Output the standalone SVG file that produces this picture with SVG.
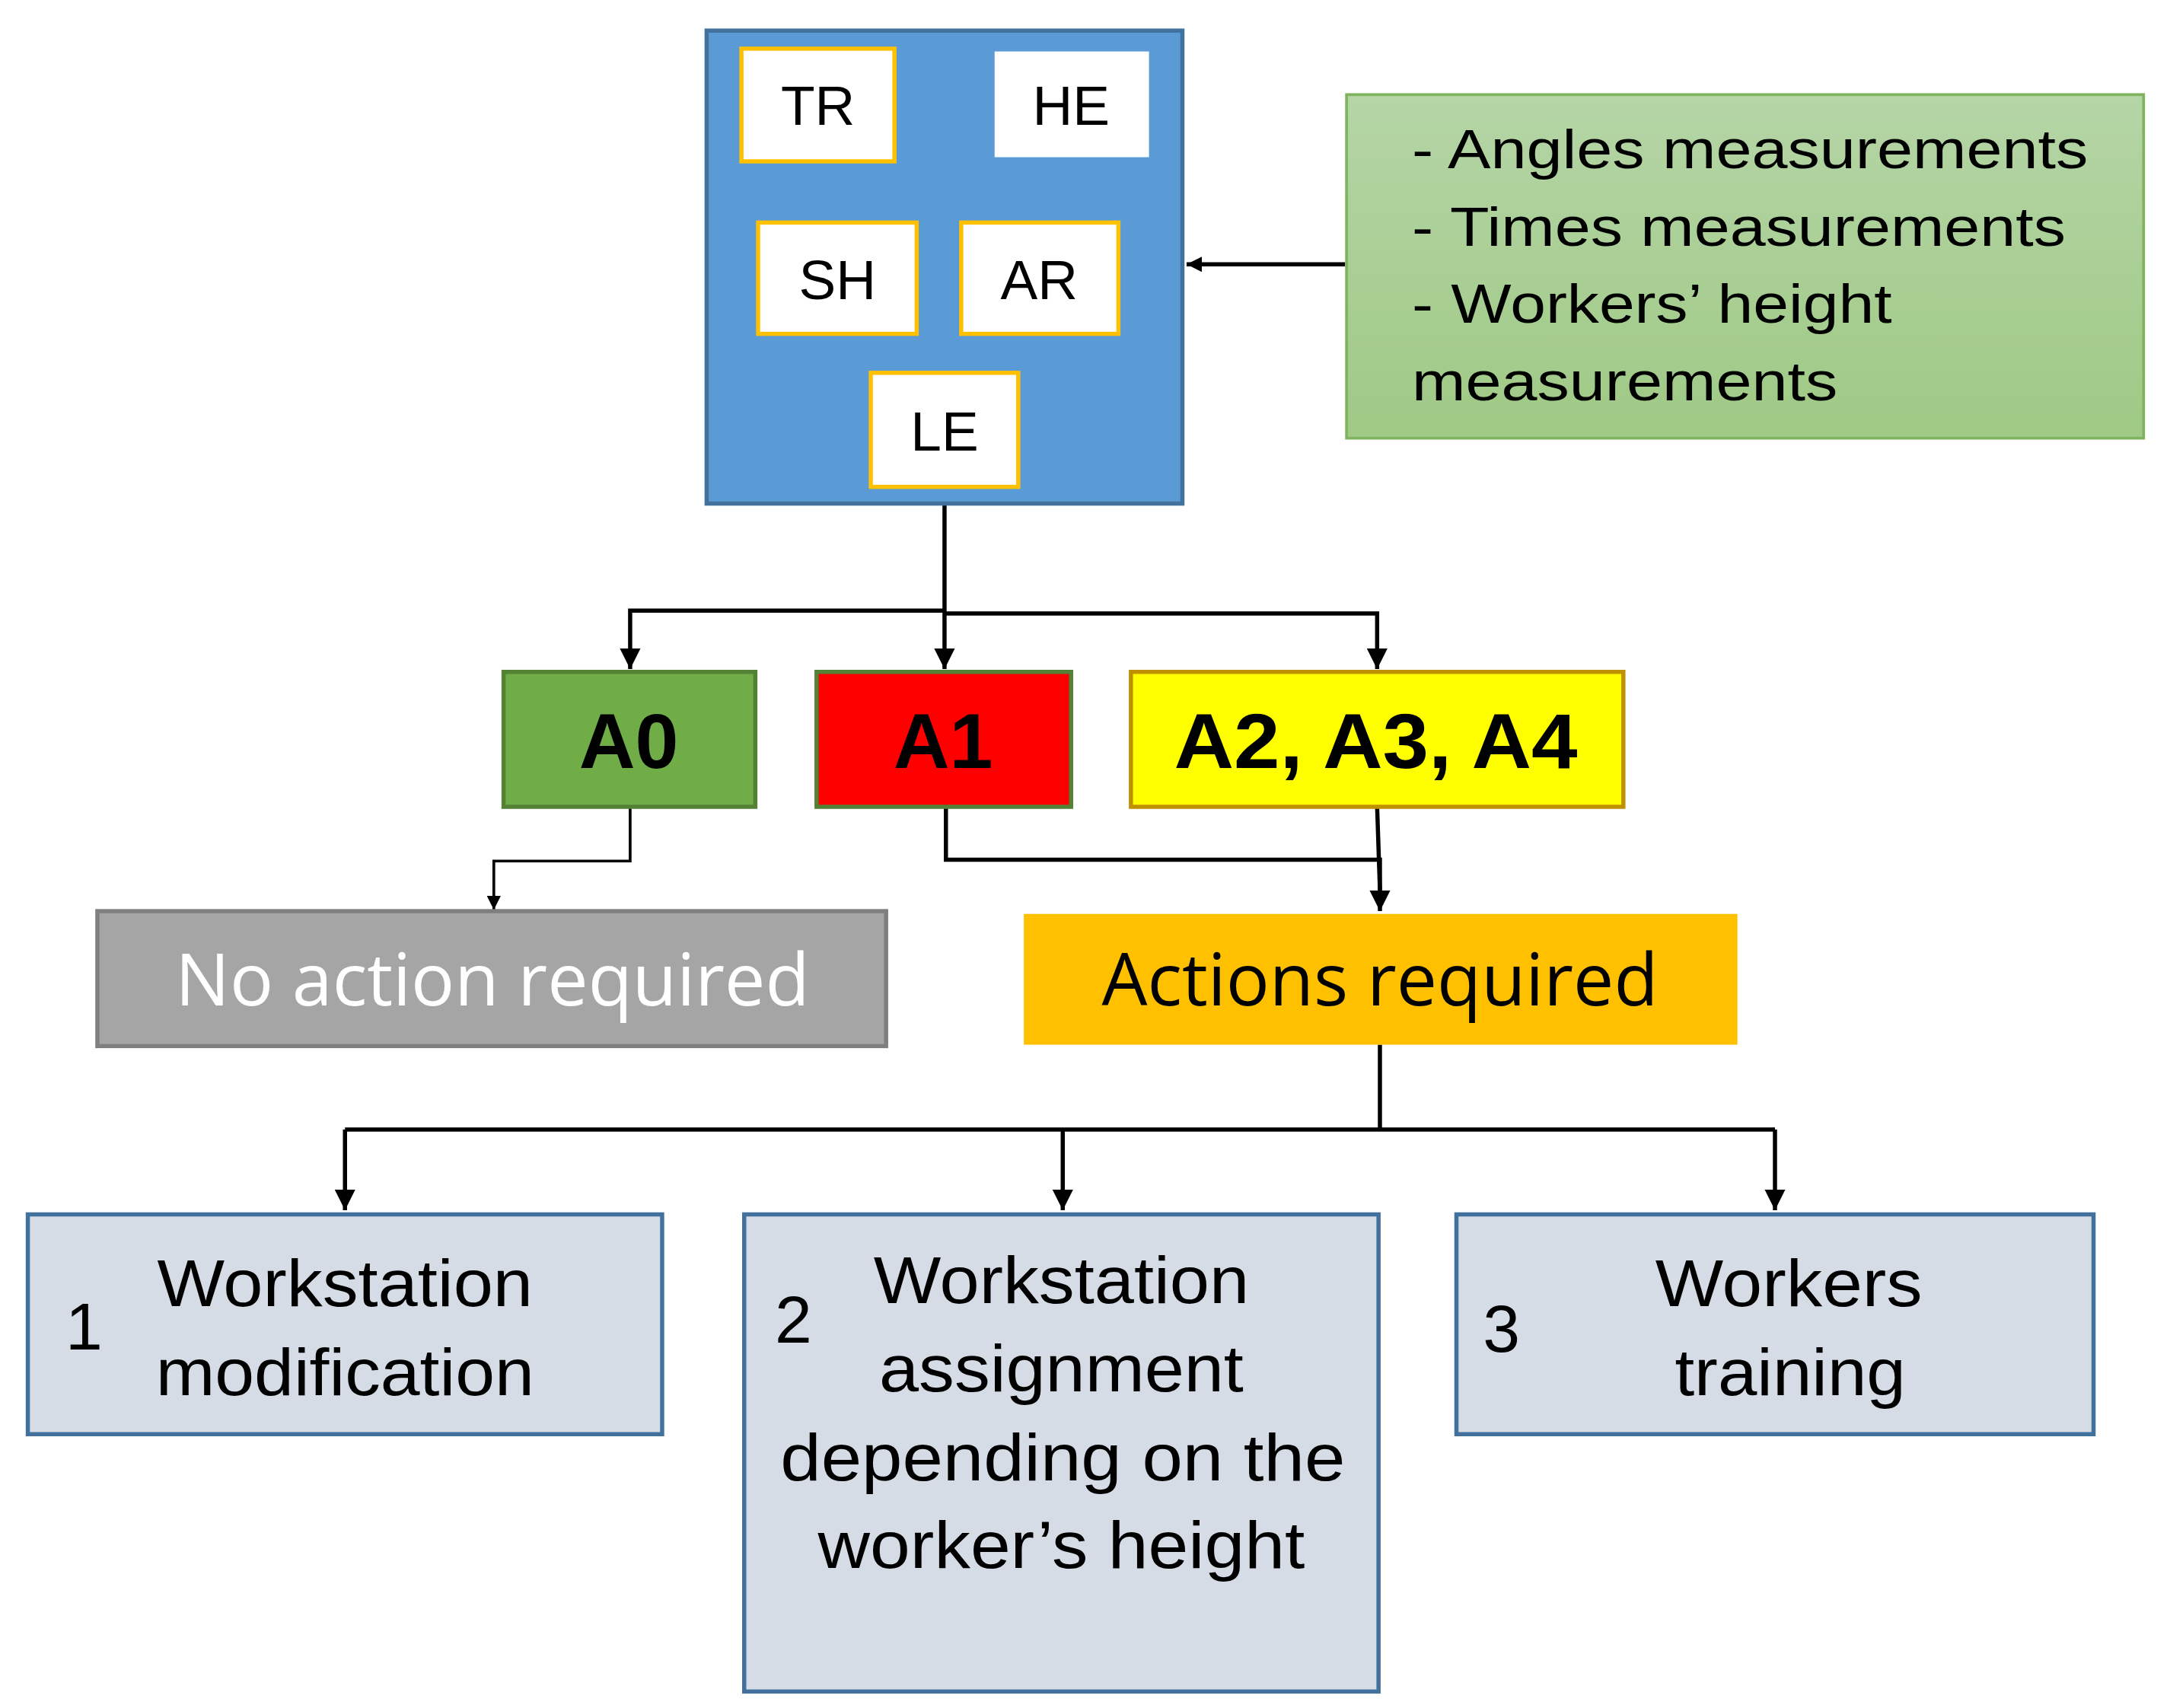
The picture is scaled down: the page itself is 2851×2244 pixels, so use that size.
<svg xmlns="http://www.w3.org/2000/svg" width="2851" height="2244" viewBox="0 0 2851 2244">
<style>
.t{font-family:"Liberation Sans",Arial,sans-serif;fill:#000}
.c{font-family:"Open Sans","Liberation Sans",sans-serif}
.w{fill:#fff;stroke:#ffc000;stroke-width:3}
.ln{fill:none;stroke:#000;stroke-width:3}
.bx{fill:#d6dce5;stroke:#41719c;stroke-width:3}
</style>
<defs>
<marker id="ah" viewBox="0 0 10 10" refX="10" refY="5" markerWidth="5" markerHeight="5" markerUnits="strokeWidth" orient="auto"><path d="M0,0L10,5L0,10z" fill="#000"/></marker>
<marker id="big" viewBox="0 0 10 10" refX="10" refY="5" markerWidth="11" markerHeight="11" markerUnits="userSpaceOnUse" orient="auto"><path d="M0,0L10,5L0,10z" fill="#000"/></marker>
<linearGradient id="g" x1="0" y1="0" x2="0" y2="1"><stop offset="0" stop-color="#b5d5a6"/><stop offset="1" stop-color="#9fc985"/></linearGradient>
</defs>
<rect width="2851" height="2244" fill="#fff"/>
<g transform="scale(1.8276)">
<g id="connectors">
<path class="ln" d="M967,190H853" marker-end="url(#big)" style="stroke-width:3"/>
<path class="ln" d="M679,362V481"  marker-end="url(#ah)"/>
<path class="ln" d="M679,439H453V481" marker-end="url(#ah)"/>
<path class="ln" d="M679,441H990V481" marker-end="url(#ah)"/>
<path class="ln" d="M453,580V619H355V654" marker-end="url(#ah)" style="stroke-width:2"/>
<path class="ln" d="M680,580V618H992V655" marker-end="url(#ah)"/>
<path class="ln" d="M990,580L992,640"/>
<path class="ln" d="M992,751V812"/>
<path class="ln" d="M248,812H1276"/>
<path class="ln" d="M248,812V870" marker-end="url(#ah)"/>
<path class="ln" d="M764,812V870" marker-end="url(#ah)"/>
<path class="ln" d="M1276,812V870" marker-end="url(#ah)"/>
</g>
<g id="body">
<rect x="508" y="22" width="342" height="340" fill="#5b9bd5" stroke="#41719c" stroke-width="3"/>
</g>
<g id="TR"><rect class="w" x="533" y="35" width="110" height="81"/><text class="t" x="588" y="90" font-size="40" text-anchor="middle">TR</text></g>
<g id="HE"><rect x="715" y="37" width="111" height="76" fill="#fff"/><text class="t" x="770" y="90" font-size="40" text-anchor="middle">HE</text></g>
<g id="SH"><rect class="w" x="545" y="160" width="114" height="80"/><text class="t" x="602" y="215" font-size="40" text-anchor="middle">SH</text></g>
<g id="AR"><rect class="w" x="691" y="160" width="113" height="80"/><text class="t" x="747" y="215" font-size="40" text-anchor="middle">AR</text></g>
<g id="LE"><rect class="w" x="626" y="268" width="106" height="82"/><text class="t" x="679" y="324" font-size="40" text-anchor="middle">LE</text></g>
<g id="inputs">
<rect x="968" y="68" width="573" height="247" fill="url(#g)" stroke="#7fb35f" stroke-width="2"/>
<text class="t" font-size="40" x="1015" y="121" textLength="486" lengthAdjust="spacingAndGlyphs">- Angles measurements</text>
<text class="t" font-size="40" x="1015" y="177" textLength="470" lengthAdjust="spacingAndGlyphs">- Times measurements</text>
<text class="t" font-size="40" x="1015" y="232" textLength="345" lengthAdjust="spacingAndGlyphs">- Workers’ height</text>
<text class="t" font-size="40" x="1015" y="288" textLength="306" lengthAdjust="spacingAndGlyphs">measurements</text>
</g>
<g id="A0"><rect x="362" y="483" width="181" height="97" fill="#70ad47" stroke="#548235" stroke-width="3"/><text class="t" x="452" y="552" font-size="56" font-weight="bold" text-anchor="middle">A0</text></g>
<g id="A1"><rect x="587" y="483" width="183" height="97" fill="#ff0000" stroke="#538135" stroke-width="3"/><text class="t" x="678" y="552" font-size="56" font-weight="bold" text-anchor="middle">A1</text></g>
<g id="A234"><rect x="813" y="483" width="354" height="97" fill="#ffff00" stroke="#bf9000" stroke-width="3"/><text class="t" x="989" y="552" font-size="56" font-weight="bold" text-anchor="middle" textLength="290" lengthAdjust="spacingAndGlyphs">A2, A3, A4</text></g>
<g id="noaction"><rect x="70" y="655" width="567" height="97" fill="#a5a5a5" stroke="#7f7f7f" stroke-width="3"/><text class="c" x="354" y="723" font-size="52" fill="#fff" text-anchor="middle" textLength="456" lengthAdjust="spacingAndGlyphs">No action required</text></g>
<g id="actions"><rect x="736" y="657" width="513" height="94" fill="#ffc000"/><text class="c" x="992" y="723" font-size="52" fill="#000" text-anchor="middle" textLength="400" lengthAdjust="spacingAndGlyphs">Actions required</text></g>
<g id="b1"><rect class="bx" x="20" y="873" width="456" height="158"/>
<text class="t" x="47" y="970" font-size="48">1</text>
<text class="t" x="248" y="939" font-size="48" text-anchor="middle" textLength="270" lengthAdjust="spacingAndGlyphs">Workstation</text>
<text class="t" x="248" y="1003" font-size="48" text-anchor="middle" textLength="272" lengthAdjust="spacingAndGlyphs">modification</text></g>
<g id="b2"><rect class="bx" x="535" y="873" width="456" height="343"/>
<text class="t" x="557" y="965" font-size="48">2</text>
<text class="t" x="763" y="937" font-size="48" text-anchor="middle" textLength="270" lengthAdjust="spacingAndGlyphs">Workstation</text>
<text class="t" x="763" y="1000" font-size="48" text-anchor="middle" textLength="262" lengthAdjust="spacingAndGlyphs">assignment</text>
<text class="t" x="764" y="1064" font-size="48" text-anchor="middle" textLength="406" lengthAdjust="spacingAndGlyphs">depending  on the</text>
<text class="t" x="763" y="1127" font-size="48" text-anchor="middle" textLength="350" lengthAdjust="spacingAndGlyphs">worker’s  height</text></g>
<g id="b3"><rect class="bx" x="1047" y="873" width="458" height="158"/>
<text class="t" x="1066" y="972" font-size="48">3</text>
<text class="t" x="1286" y="939" font-size="48" text-anchor="middle" textLength="192" lengthAdjust="spacingAndGlyphs">Workers</text>
<text class="t" x="1287" y="1003" font-size="48" text-anchor="middle" textLength="166" lengthAdjust="spacingAndGlyphs">training</text></g>
</g>
</svg>
